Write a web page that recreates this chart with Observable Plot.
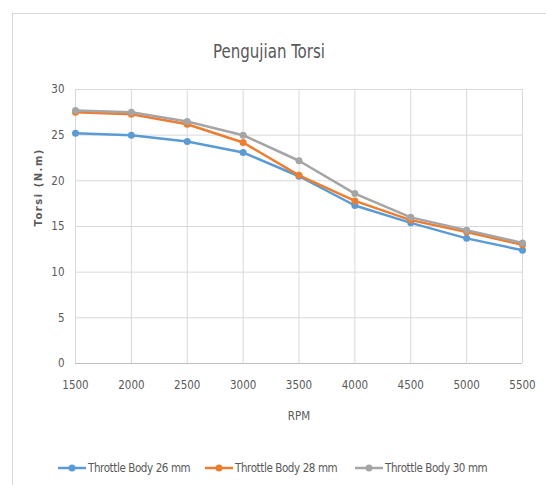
<!DOCTYPE html>
<html>
<head>
<meta charset="utf-8">
<script src="https://cdn.jsdelivr.net/npm/d3@7"></script>
<script src="https://cdn.jsdelivr.net/npm/@observablehq/plot@0.6"></script>
<style>
  html, body { margin: 0; padding: 0; background: #fff; }
  body { width: 546px; height: 485px; position: relative; overflow: hidden;
         font-family: "Liberation Sans Narrow", "DejaVu Sans Condensed", sans-serif; }
  #frame { position: absolute; left: 12px; top: 13px; width: 600px; height: 600px;
           border-left: 1px solid #d9d9d9; border-top: 1px solid #d9d9d9; }
  #title { position: absolute; left: 0; top: 0; width: 546px; height: 72px; }
  #title span { position: absolute; left: 269px; top: 51px; transform: translate(-50%, -50%) scaleX(0.88);
                font-size: 19px; color: #595959; white-space: nowrap; }
  #chart { position: absolute; left: 0; top: 72px; }
  #legend { position: absolute; left: 0; top: 442px; width: 546px; height: 43px; }
  .item { position: absolute; top: 26px; transform: translateY(-50%); display: flex; align-items: center;
          font-size: 11.5px; letter-spacing: -0.4px; color: #595959; white-space: nowrap; }
  .item svg { margin-right: 2px; }
</style>
</head>
<body>
<div id="frame"></div>
<div id="title"><span>Pengujian Torsi</span></div>
<div id="chart"></div>
<div id="legend"></div>
<script>
const rpm = [1500, 2000, 2500, 3000, 3500, 4000, 4500, 5000, 5500];
const tb26 = [25.2, 25.0, 24.3, 23.1, 20.5, 17.3, 15.4, 13.7, 12.4];
const tb28 = [27.5, 27.3, 26.2, 24.2, 20.6, 17.8, 15.7, 14.4, 13.0];
const tb30 = [27.7, 27.5, 26.5, 25.0, 22.2, 18.6, 16.0, 14.6, 13.2];
const seriesNames = ["Throttle Body 26 mm", "Throttle Body 28 mm", "Throttle Body 30 mm"];
const seriesValues = [tb26, tb28, tb30];
const colors = ["#5B9BD5", "#ED7D31", "#A5A5A5"];
const yTicks = [0, 5, 10, 15, 20, 25, 30];

const data = [];
seriesNames.forEach((name, s) => rpm.forEach((r, i) => data.push({series: name, rpm: r, torsi: seriesValues[s][i]})));

const font = "Liberation Sans Narrow, DejaVu Sans Condensed, sans-serif";

const chart = Plot.plot({
  width: 546,
  height: 370,
  marginLeft: 75,
  marginRight: 24,
  marginTop: 17,
  marginBottom: 79,
  style: {fontFamily: font, fontSize: "11.5px", color: "#595959", background: "transparent"},
  x: {domain: [1500, 5500], ticks: rpm, tickFormat: d => String(d), label: null},
  y: {domain: [0, 30], ticks: yTicks, label: null},
  color: {domain: seriesNames, range: colors},
  marks: [
    Plot.gridX(rpm, {stroke: "#d9d9d9", strokeOpacity: 1}),
    Plot.gridY(yTicks, {stroke: "#d9d9d9", strokeOpacity: 1}),
    Plot.ruleY([0], {stroke: "#bfbfbf"}),
    Plot.axisX({ticks: rpm, tickSize: 0, tickPadding: 17, tickFormat: d => String(d), label: "RPM", labelAnchor: "center", labelArrow: "none", labelOffset: 56, fill: "#595959"}),
    Plot.axisY({ticks: yTicks, tickSize: 0, tickPadding: 11, label: null, fill: "#595959"}),
    Plot.text(["Torsi (N.m)"], {frameAnchor: "left", dx: -37, rotate: -90, fontWeight: "bold", fontSize: 10, fill: "#595959", fontFamily: "DejaVu Sans, sans-serif", className: "ylab"}),
    Plot.line(data, {x: "rpm", y: "torsi", z: "series", stroke: "series", strokeWidth: 2.5}),
    Plot.dot(data, {x: "rpm", y: "torsi", fill: "series", r: 3.5})
  ]
});
document.getElementById("chart").appendChild(chart);
d3.select(chart).selectAll(".ylab text").style("letter-spacing", "1.5px");

const legendPos = [58, 205, 355];
const legend = document.getElementById("legend");
seriesNames.forEach((name, i) => {
  const item = document.createElement("div");
  item.className = "item";
  item.style.left = legendPos[i] + "px";
  item.innerHTML = `<svg width="28" height="10"><line x1="0" y1="5" x2="28" y2="5" stroke="${colors[i]}" stroke-width="2.5"/><circle cx="14" cy="5" r="3.5" fill="${colors[i]}"/></svg><span>${name}</span>`;
  legend.appendChild(item);
});
</script>
</body>
</html>
